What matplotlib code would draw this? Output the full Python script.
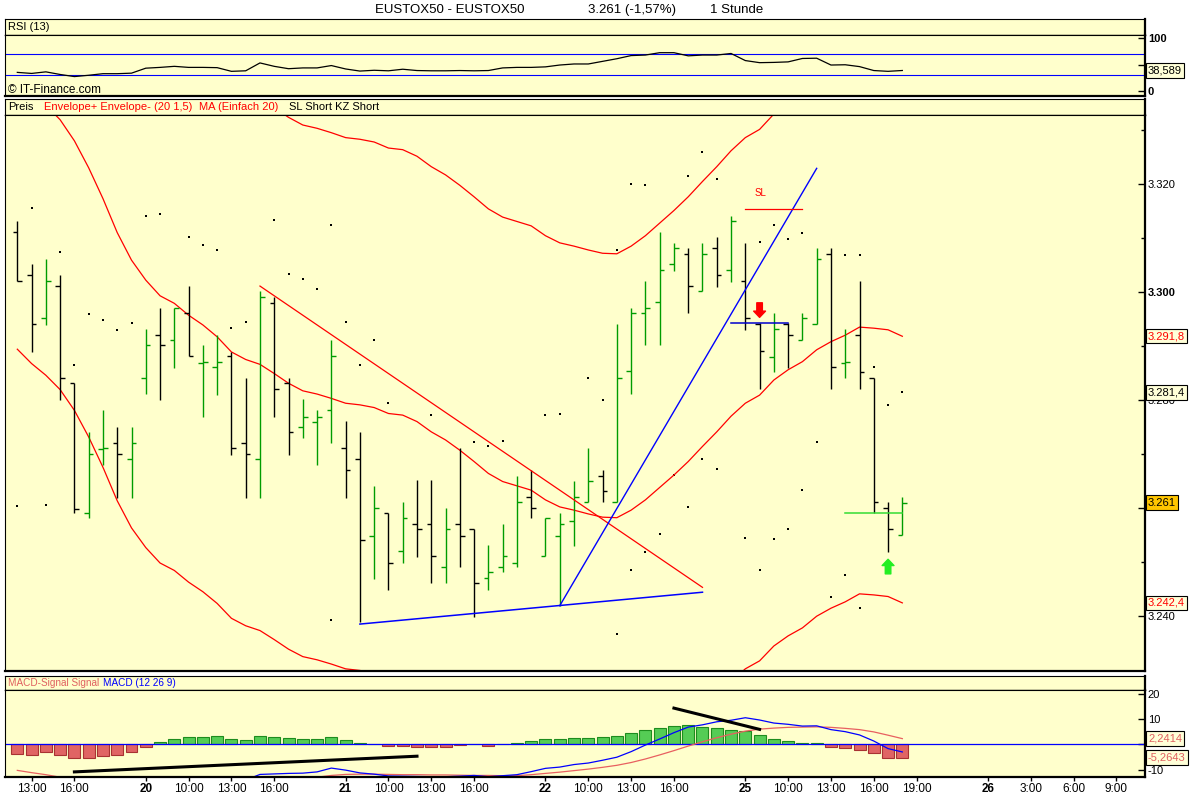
import numpy as np
import matplotlib
matplotlib.use("Agg")
import matplotlib.pyplot as plt
from matplotlib.transforms import blended_transform_factory

plt.rcParams['font.family'] = ['Liberation Sans', 'DejaVu Sans']

# ---------------------------------------------------------------------------
# data (hourly bars, EUSTOX50)
# ---------------------------------------------------------------------------
opens = [3311.1, 3303.1, 3295.1, 3301.1, 3283.1, 3259.0, 3271.0, 3272.0, 3269.0, 3284.0,
         3292.0, 3291.1, 3296.1, 3286.9, 3286.1, 3288.2, 3272.0, 3269.0, 3298.0, 3283.1,
         3275.0, 3276.0, 3278.1, 3271.1, 3269.0, 3254.9, 3259.0, 3252.0, 3257.0, 3257.0,
         3249.1, 3257.0, 3256.1, 3247.0, 3249.1, 3249.9, 3262.0, 3251.1, 3254.9, 3257.5,
         3261.1, 3266.0, 3261.1, 3285.3, 3296.1, 3298.1, 3305.1, 3307.0, 3300.1, 3308.1,
         3304.1, 3302.0, 3294.1, 3288.0, 3294.1, 3291.1, 3294.1, 3307.0, 3286.9, 3292.0,
         3284.0, 3260.0, 3255.0]
highs = [3313.1, 3305.2, 3306.1, 3303.1, 3283.1, 3274.0, 3278.1, 3275.0, 3275.0, 3293.1,
         3297.0, 3297.0, 3301.1, 3290.1, 3292.0, 3288.9, 3284.0, 3300.1, 3299.0, 3284.0,
         3280.1, 3278.1, 3291.1, 3276.1, 3274.0, 3264.1, 3259.0, 3261.1, 3265.1, 3265.1,
         3260.0, 3271.1, 3256.1, 3253.1, 3257.0, 3266.0, 3267.0, 3258.1, 3259.0, 3265.0,
         3271.1, 3267.0, 3294.1, 3297.0, 3302.0, 3311.1, 3309.0, 3308.1, 3309.0, 3310.1,
         3314.0, 3309.0, 3294.2, 3296.1, 3294.2, 3296.1, 3308.1, 3308.1, 3293.1, 3302.0,
         3284.0, 3261.1, 3262.0]
lows = [3302.0, 3288.9, 3293.9, 3280.0, 3259.0, 3258.1, 3268.0, 3261.9, 3261.9, 3281.1,
        3280.0, 3286.0, 3288.1, 3276.9, 3281.0, 3269.8, 3261.9, 3261.9, 3276.9, 3269.8,
        3273.0, 3268.0, 3272.0, 3261.9, 3238.9, 3246.9, 3244.8, 3249.9, 3251.0, 3246.1,
        3246.1, 3249.0, 3239.9, 3244.8, 3248.1, 3249.1, 3258.1, 3251.1, 3241.8, 3253.0,
        3261.1, 3261.1, 3261.1, 3281.1, 3290.1, 3290.1, 3303.9, 3296.1, 3300.1, 3301.0,
        3301.9, 3293.0, 3282.0, 3285.1, 3286.0, 3291.1, 3294.1, 3282.0, 3284.0, 3282.0,
        3259.1, 3251.9, 3255.0]
closes = [3302.0, 3294.0, 3302.0, 3284.0, 3259.9, 3270.0, 3271.2, 3270.0, 3272.0, 3290.1,
          3290.1, 3297.0, 3288.1, 3287.1, 3287.0, 3271.1, 3270.0, 3299.0, 3282.0, 3274.0,
          3276.9, 3276.9, 3288.1, 3267.0, 3254.0, 3260.0, 3249.9, 3258.1, 3256.1, 3251.1,
          3256.1, 3254.9, 3246.1, 3248.1, 3251.1, 3261.1, 3260.0, 3258.1, 3257.0, 3262.0,
          3265.0, 3263.1, 3284.0, 3296.1, 3297.0, 3304.1, 3308.1, 3301.1, 3307.0, 3303.1,
          3313.1, 3295.1, 3289.0, 3293.1, 3292.0, 3295.1, 3306.1, 3286.1, 3287.1, 3285.1,
          3261.1, 3256.1, 3261.0]

# simple moving average 20
ma20 = [3339.5, 3336.8, 3334.6, 3331.9, 3328.0, 3323.0, 3317.3, 3311.0, 3305.9, 3302.2,
        3299.3, 3297.9, 3295.7, 3293.9, 3291.7, 3288.9, 3287.5, 3286.6, 3284.9, 3283.1,
        3281.7, 3281.1, 3280.3, 3279.4, 3279.1, 3278.6, 3277.5, 3277.2, 3276.0, 3274.1,
        3272.6, 3270.7, 3268.6, 3266.4, 3264.9, 3264.1, 3263.3, 3261.5, 3260.2, 3259.6,
        3258.9, 3258.3, 3258.2, 3259.6, 3261.5, 3263.8, 3266.1, 3268.6, 3271.4, 3274.1,
        3277.0, 3279.4, 3280.9, 3283.7, 3285.6, 3287.1, 3289.3, 3290.8, 3292.0, 3293.5,
        3293.3, 3293.0, 3291.8]
envelope_pct = 1.5

# dotted SL / KZ markers (bar index, price)
dot_idx = [1, 9, 10, 3, 12, 13, 14, 18, 22, 19, 20, 21, 5, 6, 7, 8, 15, 16, 4, 23,
           24, 25, 26, 0, 2, 41, 29, 37, 38, 32, 33, 34, 48, 49, 46, 47, 45, 44, 43, 22,
           42, 48, 47, 49, 43, 44, 42, 53, 55, 54, 52, 58, 59, 40, 60, 61, 62, 56, 55, 54,
           51, 53, 52, 58, 57, 59]
dot_price = [3315.5, 3314.1, 3314.4, 3307.5, 3310.1, 3308.7, 3307.7, 3313.3, 3312.5, 3303.3,
             3302.5, 3300.5, 3295.9, 3294.8, 3292.9, 3294.2, 3293.3, 3294.4, 3286.4, 3294.4,
             3286.4, 3291.1, 3279.4, 3260.4, 3260.6, 3280.0, 3277.2, 3277.2, 3277.4, 3272.2,
             3271.4, 3272.4, 3269.0, 3267.2, 3266.1, 3260.1, 3255.1, 3251.8, 3248.5, 3239.2,
             3236.6, 3326.0, 3321.4, 3321.0, 3320.0, 3319.8, 3307.7, 3312.5, 3310.9, 3309.9,
             3309.2, 3306.8, 3306.8, 3284.0, 3286.2, 3279.0, 3281.4, 3272.2, 3263.3, 3256.1,
             3254.4, 3254.2, 3248.6, 3247.5, 3243.5, 3241.4]

rsi13 = [35.0, 33.0, 36.0, 31.0, 27.0, 29.5, 32.5, 32.5, 33.5, 43.0,
         44.5, 46.5, 44.5, 44.5, 44.0, 37.0, 38.0, 53.0, 46.5, 42.0,
         43.5, 43.5, 48.0, 41.5, 37.5, 39.0, 38.0, 41.0, 38.5, 38.0,
         38.0, 38.5, 38.0, 38.5, 43.5, 44.5, 44.5, 45.5, 49.0, 51.0,
         51.0, 56.0, 61.0, 67.0, 68.0, 72.5, 72.5, 66.5, 68.0, 68.0,
         71.0, 57.5, 53.5, 54.0, 55.0, 61.5, 62.0, 49.0, 49.5, 46.0,
         38.5, 37.0, 38.589]

macd_line = [-14.0, -15.3, -15.2, -17.1, -19.6, -20.9, -21.5, -21.9, -21.8, -19.7,
             -17.7, -16.0, -14.7, -14.2, -13.3, -14.1, -14.1, -11.9, -11.7, -11.5,
             -11.4, -10.9, -9.4, -10.2, -11.3, -11.8, -12.5, -12.6, -12.7, -12.8,
             -12.8, -12.6, -12.3, -12.8, -12.4, -12.0, -10.8, -9.5, -9.0, -8.0,
             -7.4, -6.3, -5.1, -2.9, -0.3, 2.1, 4.6, 6.8, 7.7, 8.9,
             9.5, 10.5, 9.6, 8.4, 7.9, 7.2, 7.3, 5.8, 5.0, 3.7,
             1.3, -1.7, -3.0229]
signal_line = [-10.3, -11.2, -12.0, -13.0, -14.3, -15.6, -16.8, -17.8, -18.6, -18.8,
               -18.6, -18.1, -17.6, -17.1, -16.6, -16.2, -15.8, -15.2, -14.6, -14.0,
               -13.5, -13.0, -12.3, -11.9, -11.8, -11.8, -11.9, -12.0, -12.0, -12.1,
               -12.1, -12.2, -12.3, -12.3, -12.4, -12.4, -12.0, -11.5, -11.0, -10.4,
               -9.8, -9.1, -8.3, -7.2, -5.8, -4.2, -2.5, -0.7, 1.0, 2.6,
               4.0, 5.2, 6.0, 6.4, 6.7, 6.8, 6.9, 6.7, 6.3, 5.8,
               4.9, 3.6, 2.2414]
macd_hist = [-3.7, -4.1, -3.2, -4.1, -5.3, -5.3, -4.7, -4.1, -3.2, -0.9,
             0.9, 2.1, 2.9, 2.9, 3.3, 2.1, 1.7, 3.3, 2.9, 2.5,
             2.1, 2.1, 2.9, 1.7, 0.5, 0.0, -0.7, -0.7, -0.9, -0.9,
             -0.9, -0.4, 0.0, -0.7, 0.0, 0.4, 1.2, 2.0, 2.0, 2.4,
             2.4, 2.8, 3.2, 4.3, 5.5, 6.3, 7.1, 7.5, 6.7, 6.3,
             5.5, 5.3, 3.6, 2.0, 1.2, 0.4, 0.4, -0.9, -1.3, -2.1,
             -3.6, -5.3, -5.2643]

# x axis labels (bar index -> text)
tick_pos = [1, 4, 9, 12, 15, 18, 23, 26, 29, 32, 37, 40, 43, 46, 51, 54, 57, 60, 63, 68, 71, 74, 77]
tick_text = ['13:00', '16:00', '20', '10:00', '13:00', '16:00', '21', '10:00', '13:00', '16:00',
             '22', '10:00', '13:00', '16:00', '25', '10:00', '13:00', '16:00', '19:00',
             '26', '3:00', '6:00', '9:00']
day_labels = ['20', '21', '22', '25', '26']

# drawn objects (bar index, value)
trend_red = ([17, 48], [3301.1, 3245.3])
trend_blue_low = ([24, 48], [3238.5, 3244.4])
trend_blue_up = ([38, 56], [3241.9, 3322.9])
sl_line = ([51, 55], [3315.3, 3315.3])
entry_line = ([50, 54], [3294.2, 3294.2])
exit_line = ([58, 62], [3259.0, 3259.0])
macd_trend_1 = ([4, 28], [-10.9, -4.7])
macd_trend_2 = ([46, 52], [14.3, 5.9])

# ---------------------------------------------------------------------------
BG = '#FFFFCC'
GREEN = '#009c00'
W, H = 1200, 800
XLIM = (-0.862, 79.0)


def rect(x0, y0, x1, y1):
    return [x0 / W, 1 - y1 / H, (x1 - x0) / W, (y1 - y0) / H]


def style(ax, bottom_lw=1.0):
    ax.set_facecolor(BG)
    ax.set_xlim(*XLIM)
    for side in ['left', 'top']:
        ax.spines[side].set_linewidth(0.8)
    ax.spines['right'].set_linewidth(1.6)
    ax.spines['bottom'].set_linewidth(bottom_lw)
    ax.set_xticks([])
    ax.yaxis.tick_right()
    ax.tick_params(axis='y', direction='in', length=5, width=1, pad=2, labelsize=8)


def value_box(ax, y, text, color='black', fc='#FFFFD8'):
    tr = blended_transform_factory(ax.transAxes, ax.transData)
    ax.text(1.0 + 3 / 1140, y, text, transform=tr, ha='left', va='center', fontsize=8,
            color=color, zorder=10, clip_on=False,
            bbox=dict(boxstyle='square,pad=0.2', fc=fc, ec='black', lw=0.8))


def header_text(ax, xpos, txt, col, size=8):
    ax.text(xpos, 0.5, txt, color=col, fontsize=size, va='center', ha='left',
            transform=blended_transform_factory(ax.transData, ax.transAxes))


fig = plt.figure(figsize=(12, 8), dpi=100)
fig.patch.set_facecolor('white')

fig.text(375 / W, 1 - 10 / H, 'EUSTOX50 - EUSTOX50', fontsize=9.5, va='center')
fig.text(588 / W, 1 - 10 / H, '3.261 (-1,57%)', fontsize=9.5, va='center')
fig.text(710 / W, 1 - 10 / H, '1 Stunde', fontsize=9.5, va='center')

idx = np.arange(len(closes))

# ---------------- RSI panel ----------------
ax_rh = fig.add_axes(rect(5, 19, 1145, 35))
style(ax_rh)
ax_rh.set_yticks([])
ax_rh.set_xlim(0, 1140)
header_text(ax_rh, 3, 'RSI (13)', 'black')

ax_r = fig.add_axes(rect(5, 35, 1145, 96))
style(ax_r, bottom_lw=1.6)
ax_r.set_ylim(-10, 106.2)
ax_r.axhline(70, color='#0000ff', lw=0.8)
ax_r.axhline(30, color='#0000ff', lw=0.8)
ax_r.plot(idx, rsi13, color='black', lw=0.9)
ax_r.set_yticks([0, 50, 100])
ax_r.set_yticklabels(['0', '', '100'], fontweight='bold')
ax_r.text(0.0025, 0.1, '\u00a9 IT-Finance.com', transform=ax_r.transAxes, fontsize=8.5,
          va='center', ha='left')
value_box(ax_r, rsi13[-1], '38,589')

# ---------------- price panel ----------------
ax_ph = fig.add_axes(rect(5, 99, 1145, 115))
style(ax_ph)
ax_ph.set_yticks([])
ax_ph.set_xlim(0, 1140)
header_text(ax_ph, 3, 'Preis', 'black')
header_text(ax_ph, 39, 'Envelope+ Envelope- (20 1,5)', 'red')
header_text(ax_ph, 194, 'MA (Einfach 20)', 'red')
header_text(ax_ph, 284, 'SL Short KZ Short', 'black')

ax = fig.add_axes(rect(5, 115, 1145, 671))
style(ax, bottom_lw=1.6)
ax.set_ylim(3229.81, 3332.78)

ax.scatter(dot_idx, dot_price, s=1.6, marker='s', color='black', linewidths=0)

ma = np.array(ma20)
ax.plot(idx, ma, color='red', lw=0.9)
ax.plot(idx, ma * (1 + envelope_pct / 100), color='red', lw=0.9)
ax.plot(idx, ma * (1 - envelope_pct / 100), color='red', lw=0.9)

o, h, l, c = map(np.array, (opens, highs, lows, closes))
cols = np.where(c >= o, GREEN, 'black')
ax.vlines(idx, l, h, colors=cols, lw=1.0)
ax.hlines(o, idx - 0.33, idx, colors=cols, lw=1.0)
ax.hlines(c, idx, idx + 0.33, colors=cols, lw=1.0)

ax.plot(*trend_red, color='red', lw=0.9)
ax.plot(*trend_blue_low, color='#0000ff', lw=1.1)
ax.plot(*trend_blue_up, color='#0000ff', lw=1.0)
ax.plot(*sl_line, color='red', lw=0.9)
ax.plot(*entry_line, color='#0000cc', lw=1.1)
ax.plot(*exit_line, color='#33dd33', lw=1.1)
ax.text(52.05, 3318.3, 'SL', color='red', fontsize=7, ha='center', va='center')

arrow = 'simple,head_width=0.85,head_length=0.45,tail_width=0.4'
ax.annotate('', xy=(52, 3295.3), xytext=(52, 3298.0),
            arrowprops=dict(arrowstyle=arrow, color='red', shrinkA=0, shrinkB=0,
                            mutation_scale=10))
ax.annotate('', xy=(61, 3250.5), xytext=(61, 3247.8),
            arrowprops=dict(arrowstyle=arrow, color='#22ee22', shrinkA=0, shrinkB=0,
                            mutation_scale=10))

# 3.260 sits completely under the last-price box, so only its tick is drawn
ax.set_yticks([3240, 3260, 3280, 3300, 3320])
ax.set_yticklabels(['3.240', '', '3.280', '3.300', '3.320'])
for lbl in ax.get_yticklabels():
    if lbl.get_text() == '3.300':
        lbl.set_fontweight('bold')
ax.set_yticks([3250, 3270, 3290, 3310, 3330], minor=True)
ax.tick_params(axis='y', which='minor', direction='in', length=3, width=1)

value_box(ax, ma20[-1], '3.291,8', color='red')
value_box(ax, dot_price[dot_idx.index(62)], '3.281,4')
value_box(ax, closes[-1], '3.261', fc='#FFC600')
value_box(ax, ma20[-1] * (1 - envelope_pct / 100), '3.242,4', color='red')

# ---------------- MACD panel ----------------
ax_mh = fig.add_axes(rect(5, 676, 1145, 690))
style(ax_mh)
ax_mh.set_yticks([])
ax_mh.set_xlim(0, 1140)
header_text(ax_mh, 3, 'MACD-Signal Signal', '#e06060', size=7.2)
header_text(ax_mh, 98, 'MACD (12 26 9)', '#0000ff', size=7.2)

ax_m = fig.add_axes(rect(5, 690, 1145, 777))
style(ax_m, bottom_lw=1.6)
ax_m.set_ylim(-12.92, 21.46)
hist = np.array(macd_hist)
ax_m.bar(idx, hist, width=0.84, color=np.where(hist >= 0, '#55cc55', '#e06464'),
         edgecolor=np.where(hist >= 0, '#1e8c1e', '#a83232'), linewidth=0.8)
ax_m.axhline(0, color='#0000ff', lw=0.9)
ax_m.plot(idx, signal_line, color='#e86060', lw=0.9)
ax_m.plot(idx, macd_line, color='#0000ff', lw=0.9)
ax_m.plot(*macd_trend_1, color='black', lw=2.2)
ax_m.plot(*macd_trend_2, color='black', lw=2.2)
ax_m.set_yticks([-10, 0, 10, 20])
ax_m.set_yticklabels(['-10', '', '10', '20'])
value_box(ax_m, signal_line[-1], '2,2414', color='#e06060')
value_box(ax_m, macd_hist[-1], '-5,2643', color='#e06060')

ax_m.set_xticks(tick_pos)
ax_m.set_xticklabels(tick_text)
ax_m.tick_params(axis='x', direction='out', length=3, width=1, pad=1, labelsize=8.5)
for lbl in ax_m.get_xticklabels():
    if lbl.get_text() in day_labels:
        lbl.set_fontweight('bold')

fig.savefig('out.png', dpi=100, facecolor='white')
